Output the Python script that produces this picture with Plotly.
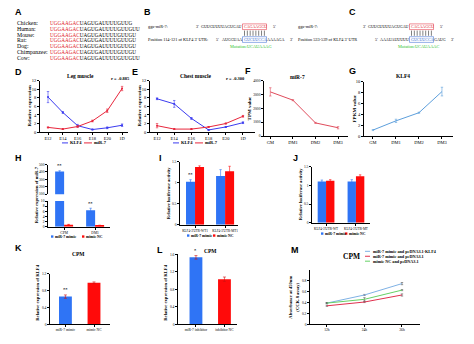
import plotly.graph_objects as go

W, H = 474, 344
SERIF = "Liberation Serif"
SANS = "Liberation Sans"

BLUE_D = "#3b3bf0"
RED_D = "#e8263c"
BAR_BLUE = "#2f74f5"
BAR_RED = "#ff0a0a"

# ---------------- data ----------------
species = ["Chicken:", "Human:", "Mouse:", "Rat:", "Dog:", "Chimpanzee:", "Cow:"]
seed_seq = "UGGAAGAC"
tail_seq = ["UAGUGAUUUUGUUG", "UAGUGAUUUUGUUGUU", "UAGUGAUUUUGUUGU", "UAGUGAUUUUGUUGU",
            "UAGUGAUUUUGUUGU", "UAGUGAUUUUGUUGU", "UAGUGAUUUUGUUGUU"]

mir_plain = "GUUGUUUUAGUGAU"
mir_seed = "CAGAAGGU"
site_pos = ["Position 114-121 of KLF4 3' UTR:", "Position 533-539 of KLF4 3' UTR"]
site_left = ["AUGGUAA", "AAAUAUUUUU"]
site_seed = ["GUCUUCCA", "GUCUUCCA"]
site_right = ["AAAAGA", "GAUG"]
site_mut = ["UCAUAAAG", "UCAUAAAC"]

stages = ["E12", "E14", "E16", "E18", "E20", "1D"]
leg_klf4 = [8.2, 4.6, 1.5, 0.6, 1.0, 1.6]
leg_klf4_err = [1.3, 0.2, 0.3, 0.1, 0.2, 0.3]
leg_mir7 = [1.1, 0.7, 1.3, 2.6, 5.0, 10.2]
leg_mir7_err = [0.1, 0.1, 0.2, 0.2, 0.4, 0.5]
leg_r = "r = -0.885"

chest_klf4 = [7.8, 6.6, 3.2, 0.5, 1.2, 2.2]
chest_klf4_err = [0.2, 0.8, 0.2, 0.1, 0.1, 0.2]
chest_mir7 = [1.5, 0.7, 0.7, 1.2, 2.0, 3.7]
chest_mir7_err = [0.5, 0.1, 0.1, 0.1, 0.1, 0.2]
chest_r = "r = -0.300"

diff_stages = ["GM", "DM1", "DM2", "DM3"]
mir7_tpm = [3200, 2600, 950, 600]
mir7_tpm_err = [300, 40, 40, 80]
klf4_fpkm = [1.1, 2.8, 4.3, 8.2]
klf4_fpkm_err = [0.1, 0.3, 0.1, 0.8]

h_groups = ["CPM", "DM1"]
h_mimic = [405, 6.4]
h_mimic_err = [12, 0.8]
h_nc = [0.8, 0.5]
h_nc_err = [0.1, 0.1]
h_sig = ["**", "**"]

i_groups = ["KLF4-3'UTR-WT1", "KLF4-3'UTR-MT1"]
i_mimic = [1.02, 1.16]
i_mimic_err = [0.05, 0.15]
i_nc = [1.37, 1.27]
i_nc_err = [0.03, 0.12]
i_sig = ["**", ""]

j_groups = ["KLF4-3'UTR-WT", "KLF4-3'UTR-MT"]
j_mimic = [1.10, 1.10]
j_mimic_err = [0.04, 0.05]
j_nc = [1.12, 1.24]
j_nc_err = [0.03, 0.04]

k_groups = ["miR-7 mimic", "mimic NC"]
k_vals = [0.66, 0.99]
k_err = [0.04, 0.02]
k_sig = ["**", ""]

l_groups = ["miR-7 inhibitor", "inhibitor NC"]
l_vals = [1.53, 1.03]
l_err = [0.04, 0.05]
l_sig = ["*", ""]

m_times = ["12h", "24h", "36h"]
m_names = ["miR-7 mimic and pcDNA3.1-KLF4", "miR-7 mimic and pcDNA3.1", "mimic NC and pcDNA3.1"]
m_colors = ["#7fb2e5", "#e0304e", "#66d166"]
m_vals = [[0.39, 0.54, 0.75], [0.34, 0.41, 0.54], [0.39, 0.46, 0.63]]
m_err = [[0.01, 0.01, 0.02], [0.01, 0.01, 0.02], [0.01, 0.03, 0.01]]

# ---------------- helpers ----------------
fig = go.Figure()
ann = []
shapes = []
n_axes = [0]


def text(x, y, s, size=5, color="black", family=SERIF, xanchor="left",
         yanchor="middle", angle=0, bold=False):
    if bold:
        s = "<b>" + s + "</b>"
    ann.append(dict(x=x / W, y=1 - y / H, xref="paper", yref="paper", text=s,
                    showarrow=False, font=dict(size=size, color=color, family=family),
                    xanchor=xanchor, yanchor=yanchor, textangle=angle, borderpad=0))


def line(x0, y0, x1, y1, color="black", width=0.8):
    shapes.append(dict(type="line", xref="paper", yref="paper", x0=x0 / W, x1=x1 / W,
                       y0=1 - y0 / H, y1=1 - y1 / H, line=dict(color=color, width=width)))


def box(x0, y0, x1, y1, color, width=0.6, fill=None):
    shapes.append(dict(type="rect", xref="paper", yref="paper", x0=x0 / W, x1=x1 / W,
                       y0=1 - y1 / H, y1=1 - y0 / H, line=dict(color=color, width=width),
                       fillcolor=fill if fill else "rgba(0,0,0,0)"))


def axes(x0, x1, y0, y1, xkw=None, ykw=None):
    n_axes[0] += 1
    n = n_axes[0]
    sx = "" if n == 1 else str(n)
    base = dict(showline=True, linecolor="black", linewidth=0.7, ticks="outside",
                ticklen=2, tickwidth=0.6, tickcolor="black", showgrid=False,
                zeroline=False, fixedrange=True, tickangle=0,
                tickfont=dict(family=SERIF, size=4.5, color="black"))
    xa = dict(base, domain=[x0 / W, x1 / W], anchor="y" + sx)
    ya = dict(base, domain=[1 - y1 / H, 1 - y0 / H], anchor="x" + sx)
    xa.update(xkw or {})
    ya.update(ykw or {})
    fig.update_layout({"xaxis" + sx: xa, "yaxis" + sx: ya})
    return "x" + sx, "y" + sx


def err(arr, color):
    return dict(type="data", array=arr, color=color, thickness=0.6, width=1.2)


SMALL_TICK = dict(family=SERIF, size=3.6, color="black")

# ---------------- panel letters ----------------
for lab, (lx, ly) in {"A": (18, 10), "B": (147, 10), "C": (352, 10), "D": (18, 71),
                      "E": (135, 71), "F": (248, 70), "G": (352, 70), "H": (18, 158),
                      "I": (160, 158), "J": (295, 158), "K": (18, 250), "L": (160, 252),
                      "M": (295, 252)}.items():
    text(lx, ly, lab, size=9, family=SANS, bold=True, xanchor="center")

# ---------------- A: sequence alignment ----------------
for i, sp in enumerate(species):
    y = 21 + i * 6
    text(16, y, sp, size=5.8)
    text(49, y, seed_seq + '<span style="color:black">' + tail_seq[i] + "</span>",
         size=5.2, color="#e01a2a")

# ---------------- B, C: target sites ----------------
SEQ = 4.0
CW = 2.84  # approximate width of one nucleotide letter at SEQ size
for k, (xl, split) in enumerate([(147, 243), (297, 410)]):
    text(xl, 25, "gga-miR-7:", size=4.3)
    text(xl, 38, site_pos[k], size=4.3)
    text(split - len(mir_plain) * CW - 3, 25, "3'", size=SEQ, xanchor="right")
    text(split, 25, mir_plain, size=SEQ, xanchor="right")
    text(split, 25, mir_seed, size=SEQ, color="#e01a2a")
    box(split - 0.5, 22.2, split + 8 * CW + 0.8, 28, "#e01a2a", width=0.5)
    text(split + 8 * CW + 6, 25, "5'", size=SEQ)
    left = site_left[k]
    text(split - len(left) * CW - 3, 38, "5'", size=SEQ, xanchor="right")
    text(split, 38, left, size=SEQ, xanchor="right")
    text(split, 38, site_seed[k], size=SEQ, color="#2a5fd0")
    box(split - 0.5, 35.2, split + 8 * CW + 0.8, 41, "#2a5fd0", width=0.5)
    text(split + 8 * CW + 0.5, 38, site_right[k], size=SEQ)
    text(split + 8 * CW + len(site_right[k]) * CW + 6, 38, "3'", size=SEQ)
    for j in range(8):
        xx = split + 1.5 + j * CW
        line(xx, 29, xx, 34.3, width=0.5)
    text(split + 8, 45, "Mutation:" + site_mut[k], size=4.3, color="#2ec42e",
         xanchor="center")

# ---------------- D, E: developmental expression ----------------
for (x0, x1, xr, title, tx, r, rx, klf, klf_e, mir, mir_e, lx) in [
        (40, 128, [-0.54, 5.4], "Leg muscle", 80, leg_r, 110, leg_klf4, leg_klf4_err,
         leg_mir7, leg_mir7_err, 62),
        (150, 255, [-0.41, 5.7], "Chest muscle", 196, chest_r, 225, chest_klf4,
         chest_klf4_err, chest_mir7, chest_mir7_err, 173)]:
    xa, ya = axes(x0, x1, 80, 132,
                  dict(range=xr, tickvals=list(range(len(stages))), ticktext=stages),
                  dict(range=[0, 12], dtick=2))
    fig.add_trace(go.Scatter(x=list(range(len(stages))), y=klf, xaxis=xa, yaxis=ya,
                             mode="lines+markers", line=dict(color=BLUE_D, width=1),
                             marker=dict(size=2, color=BLUE_D),
                             error_y=err(klf_e, BLUE_D), showlegend=False))
    fig.add_trace(go.Scatter(x=list(range(len(stages))), y=mir, xaxis=xa, yaxis=ya,
                             mode="lines+markers", line=dict(color=RED_D, width=1),
                             marker=dict(size=2, color=RED_D),
                             error_y=err(mir_e, RED_D), showlegend=False))
    text(tx, 75, title, size=5.5, bold=True, xanchor="center")
    text(rx, 78, r, size=4.5, bold=True)
    text(x0 - 11, 106, "Relative expression", size=5, angle=-90, bold=True,
         xanchor="center")
    line(lx, 143, lx + 6, 143, BLUE_D, 1)
    text(lx + 7, 143, "KLF4", size=4.5, bold=True)
    line(lx + 22, 143, lx + 30, 143, RED_D, 1)
    text(lx + 31, 143, "miR-7", size=4.5, bold=True)

# ---------------- F: miR-7 TPM ----------------
xa, ya = axes(264, 348, 80, 136,
              dict(range=[-0.28, 3.44], tickvals=[0, 1, 2, 3], ticktext=diff_stages),
              dict(range=[0, 4000], dtick=1000, tickfont=SMALL_TICK))
fig.add_trace(go.Scatter(x=[0, 1, 2, 3], y=mir7_tpm, xaxis=xa, yaxis=ya, mode="lines",
                         line=dict(color="#e04c5c", width=1),
                         error_y=err(mir7_tpm_err, "#e04c5c"), showlegend=False))
text(297, 76, "miR-7", size=5.5, bold=True, xanchor="center")
text(249, 108, "TPM value", size=5, angle=-90, bold=True, xanchor="center")

# ---------------- G: KLF4 FPKM ----------------
xa, ya = axes(364, 453, 81, 136,
              dict(range=[-0.39, 3.48], tickvals=[0, 1, 2, 3], ticktext=diff_stages),
              dict(range=[0, 10], dtick=2))
fig.add_trace(go.Scatter(x=[0, 1, 2, 3], y=klf4_fpkm, xaxis=xa, yaxis=ya, mode="lines",
                         line=dict(color="#5d9fdc", width=1),
                         error_y=err(klf4_fpkm_err, "#5d9fdc"), showlegend=False))
text(403, 75, "KLF4", size=5.5, bold=True, xanchor="center")
text(354, 108, "FPKM value", size=5, angle=-90, bold=True, xanchor="center")


# ---------------- grouped bar helper ----------------
def grouped(xa, ya, mimic, mimic_e, nc, nc_e, w):
    xs = list(range(len(mimic)))
    fig.add_trace(go.Bar(x=[i - w / 2 for i in xs], y=mimic, width=w, xaxis=xa, yaxis=ya,
                         marker=dict(color=BAR_BLUE, line=dict(width=0)),
                         error_y=err(mimic_e, BAR_BLUE), showlegend=False))
    fig.add_trace(go.Bar(x=[i + w / 2 for i in xs], y=nc, width=w, xaxis=xa, yaxis=ya,
                         marker=dict(color=BAR_RED, line=dict(width=0)),
                         error_y=err(nc_e, BAR_RED), showlegend=False))


def bar_legend(x, y, labels, gap):
    for j, (lab, col) in enumerate(zip(labels, [BAR_BLUE, BAR_RED])):
        xx = x + j * gap
        box(xx, y - 1.2, xx + 2.4, y + 1.2, col, width=0, fill=col)
        text(xx + 3.3, y, lab, size=3.8, bold=True)


def sig(xa, ya, x, y, s):
    if s:
        ann.append(dict(x=x, y=y, xref=xa, yref=ya, text="<b>" + s + "</b>",
                        showarrow=False, yanchor="bottom", yshift=0.5,
                        font=dict(size=4.5, family=SERIF, color="black")))


# ---------------- H: broken-axis bars ----------------
hw = 0.29
hx = dict(range=[-0.52, 1.48], tickvals=[0, 1], ticktext=h_groups, tickfont=SMALL_TICK)
xa_u, ya_u = axes(48, 110, 165, 195,
                  dict(hx, showline=False, ticks="", showticklabels=False),
                  dict(range=[100, 500], dtick=100, tickfont=SMALL_TICK))
grouped(xa_u, ya_u, h_mimic, h_mimic_err, h_nc, h_nc_err, hw)
xa_l, ya_l = axes(48, 110, 202, 228, hx, dict(range=[0, 10], dtick=2, tickfont=SMALL_TICK))
grouped(xa_l, ya_l, h_mimic, h_mimic_err, h_nc, h_nc_err, hw)
sig(xa_u, ya_u, -hw / 2, h_mimic[0] + h_mimic_err[0], h_sig[0])
sig(xa_l, ya_l, 1 - hw / 2, h_mimic[1] + h_mimic_err[1], h_sig[1])
text(36, 196, "Relative expression of miR-7", size=4.6, angle=-90, bold=True,
     xanchor="center")
bar_legend(51, 238, ["miR-7 mimic", "mimic NC"], 31)

# ---------------- I, J: luciferase ----------------
xa, ya = axes(180, 238, 162, 226,
              dict(range=[-0.5, 1.43], tickvals=[0, 1], ticktext=i_groups,
                   tickfont=dict(SMALL_TICK, size=3.3)),
              dict(range=[0, 1.5], tickvals=[0, 0.5, 1, 1.5], tickfont=SMALL_TICK))
grouped(xa, ya, i_mimic, i_mimic_err, i_nc, i_nc_err, 0.3)
for i, s in enumerate(i_sig):
    sig(xa, ya, i - 0.15, i_mimic[i] + i_mimic_err[i], s)
text(168, 194, "Relative luciferase activity", size=4.6, angle=-90, bold=True,
     xanchor="center")
bar_legend(187, 237, ["miR-7 mimic", "mimic NC"], 26)

xa, ya = axes(312, 370, 167, 224,
              dict(range=[-0.47, 1.47], tickvals=[0, 1], ticktext=j_groups,
                   tickfont=dict(SMALL_TICK, size=3.3)),
              dict(range=[0, 1.5], tickvals=[0, 0.5, 1, 1.5], tickfont=SMALL_TICK))
grouped(xa, ya, j_mimic, j_mimic_err, j_nc, j_nc_err, 0.28)
text(300, 195, "Relative luciferase activity", size=4.6, angle=-90, bold=True,
     xanchor="center")
bar_legend(321, 235, ["miR-7 mimic", "mimic NC"], 24)

# ---------------- K, L: KLF4 expression ----------------
for (x0, x1, y0, xr, yr, groups, vals, errs, sigs, tx, ty) in [
        (50, 110, 276, [-0.54, 1.56], [0, 1.2], k_groups, k_vals, k_err, k_sig, 78, 256),
        (178, 237, 256, [-0.63, 1.44], [0, 1.6], l_groups, l_vals, l_err, l_sig, 210, 253)]:
    xa, ya = axes(x0, x1, y0, 327,
                  dict(range=xr, tickvals=[0, 1], ticktext=groups, tickfont=SMALL_TICK),
                  dict(range=yr, dtick=0.4, tickfont=SMALL_TICK))
    fig.add_trace(go.Bar(x=[0, 1], y=vals, width=0.45, xaxis=xa, yaxis=ya,
                         marker=dict(color=[BAR_BLUE, BAR_RED], line=dict(width=0)),
                         error_y=dict(type="data", array=errs, color="#d01010",
                                      thickness=0.6, width=1.5),
                         showlegend=False))
    for i, s in enumerate(sigs):
        sig(xa, ya, i, vals[i] + errs[i], s)
    text(tx, ty, "CPM", size=5.5, bold=True, xanchor="center")
    text(x0 - 12, 295, "Relative expression of KLF4", size=4.6, angle=-90, bold=True,
         xanchor="center")

# ---------------- M: CCK-8 ----------------
xa, ya = axes(310, 420, 272, 327,
              dict(range=[-0.45, 2.48], tickvals=[0, 1, 2], ticktext=m_times,
                   tickfont=SMALL_TICK),
              dict(range=[0, 1.0], tickvals=[0, 0.2, 0.4, 0.6, 0.8], tickfont=SMALL_TICK))
for vals, e, col in zip(m_vals, m_err, m_colors):
    fig.add_trace(go.Scatter(x=[0, 1, 2], y=vals, xaxis=xa, yaxis=ya, mode="lines",
                             line=dict(color=col, width=1), error_y=err(e, "#555555"),
                             showlegend=False))
text(291, 300, "Absorbance at 450nm", size=4.6, angle=-90, bold=True, xanchor="center")
text(298, 300, "(CCK-8 assay)", size=4.6, angle=-90, bold=True, xanchor="center")
text(351, 258, "CPM", size=7.5, bold=True, xanchor="center")
for j, (nm, col) in enumerate(zip(m_names, m_colors)):
    yy = 253 + j * 5
    line(365, yy, 370, yy, col, 1)
    text(372, yy, nm, size=4.2, bold=True)

fig.update_layout(width=W, height=H, margin=dict(l=0, r=0, t=0, b=0),
                  paper_bgcolor="white", plot_bgcolor="white", barmode="overlay",
                  annotations=ann, shapes=shapes, showlegend=False,
                  font=dict(family=SERIF, color="black"))
fig.write_html("out.html")
